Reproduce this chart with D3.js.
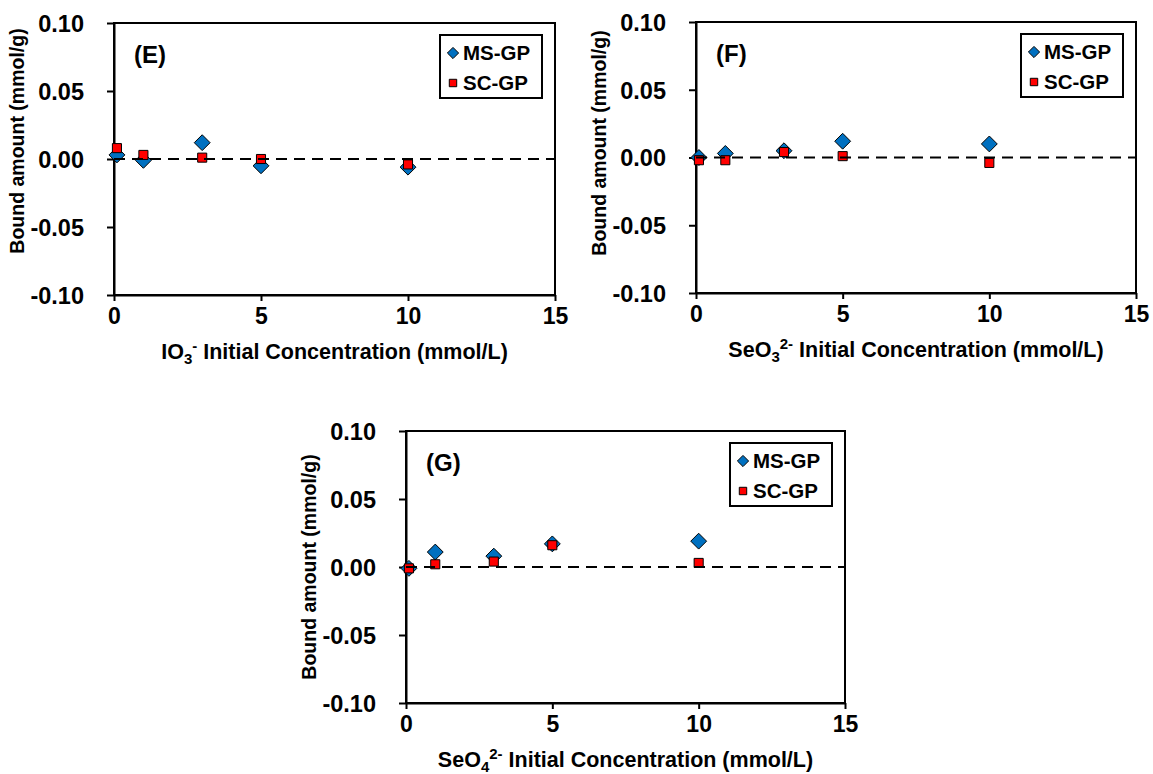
<!DOCTYPE html>
<html>
<head>
<meta charset="utf-8">
<script src="https://cdn.jsdelivr.net/npm/d3@7"></script>
<style>
  body { margin: 0; background: #fff; }
  svg { display: block; font-family: "Liberation Sans", Arial, sans-serif; font-weight: bold; }
</style>
</head>
<body>
<svg id="chart" width="1153" height="774"></svg>
<script>
// initial concentrations (mmol/L)
const concentrations = [0.1, 1, 3, 5, 10]

// bound amounts (mmol/g)
const msIO3 = [0.003, -0.001, 0.012, -0.005, -0.006]
const scIO3 = [0.008, 0.003, 0.001, 0.000, -0.004]

const msSeO3 = [0.000, 0.003, 0.005, 0.012, 0.010]
const scSeO3 = [-0.002, -0.002, 0.004, 0.001, -0.004]

const msSeO4 = [-0.001, 0.011, 0.008, 0.017, 0.019]
const scSeO4 = [-0.001, 0.002, 0.004, 0.016, 0.003]

const xTicks = [0, 5, 10, 15]
const yTicks = [-0.10, -0.05, 0.00, 0.05, 0.10]
const seriesNames = ["MS-GP", "SC-GP"]

const blue = "#0070c0"
const red = "#ff0000"
const font = "'Liberation Sans', Arial, sans-serif"

const svg = d3.select("#chart")

const panels = [
    { label: "(E)", ion: "IO", sub: "3", sup: "-", ms: msIO3, sc: scIO3,
      left: 114, right: 555, top: 23, bottom: 295, yTitleY: 141 },
    { label: "(F)", ion: "SeO", sub: "3", sup: "2-", ms: msSeO3, sc: scSeO3,
      left: 696, right: 1136, top: 22, bottom: 293, yTitleY: 143 },
    { label: "(G)", ion: "SeO", sub: "4", sup: "2-", ms: msSeO4, sc: scSeO4,
      left: 406, right: 845, top: 431, bottom: 703, yTitleY: 567 }
]

const diamond = d3.symbol().type(d3.symbolDiamond2)
const square = d3.symbol().type(d3.symbolSquare2)
// excel style: plain hyphen for negatives
const yFormat = d => d3.format(".2f")(d).replace("\u2212", "-")

function drawPanel(p) {
    const x = d3.scaleLinear().domain([0, 15]).range([p.left, p.right])
    const y = d3.scaleLinear().domain([-0.1, 0.1]).range([p.bottom, p.top])
    const g = svg.append("g")

    // plot frame
    g.append("rect")
        .attr("x", p.left).attr("y", p.top)
        .attr("width", p.right - p.left).attr("height", p.bottom - p.top)
        .attr("fill", "none").attr("stroke", "#000").attr("stroke-width", 2)

    const yAxis = g.append("g")
        .attr("transform", `translate(${p.left},0)`)
        .call(d3.axisLeft(y).tickValues(yTicks).tickFormat(yFormat).tickSize(7).tickPadding(23).tickSizeOuter(0))
    const xAxis = g.append("g")
        .attr("transform", `translate(0,${p.bottom})`)
        .call(d3.axisBottom(x).tickValues(xTicks).tickSize(6).tickPadding(7).tickSizeOuter(0))

    for (const ax of [xAxis, yAxis]) {
        ax.attr("font-family", font)
        ax.select(".domain").attr("stroke-width", 2)
        ax.selectAll(".tick line").attr("stroke-width", 2)
        ax.selectAll(".tick text").style("font-weight", "bold").attr("fill", "#000")
    }
    yAxis.selectAll(".tick text").style("font-size", "23.5px").attr("dy", "0.36em")
    xAxis.selectAll(".tick text").style("font-size", "23px")

    // markers: MS first, SC on top
    g.selectAll(".ms").data(p.ms).join("path")
        .attr("transform", (d, i) => `translate(${x(concentrations[i])},${y(d)})`)
        .attr("d", diamond.size(160)())
        .attr("fill", blue).attr("stroke", "#000").attr("stroke-width", 1)

    g.selectAll(".sc").data(p.sc).join("path")
        .attr("transform", (d, i) => `translate(${x(concentrations[i])},${y(d)})`)
        .attr("d", square.size(105)())
        .attr("fill", red).attr("stroke", "#000").attr("stroke-width", 1)

    // zero reference line
    g.append("line")
        .attr("x1", p.left).attr("x2", p.right)
        .attr("y1", y(0)).attr("y2", y(0))
        .attr("stroke", "#000").attr("stroke-width", 2.2)
        .attr("stroke-dasharray", "11,7")

    // panel letter
    g.append("text")
        .attr("x", p.left + 20).attr("y", p.top + 40)
        .style("font-size", "24px").text(p.label)

    // legend
    const lx = p.right - 115, ly = p.top + 12
    const lg = g.append("g").attr("transform", `translate(${lx},${ly})`)
    lg.append("rect").attr("width", 102).attr("height", 63)
        .attr("fill", "#fff").attr("stroke", "#000").attr("stroke-width", 2)
    seriesNames.forEach((name, i) => {
        const cy = 18 + i * 30
        lg.append("path")
            .attr("transform", `translate(13,${cy})`)
            .attr("d", (i === 0 ? diamond.size(80) : square.size(70))())
            .attr("fill", i === 0 ? blue : red)
            .attr("stroke", "#000").attr("stroke-width", 1)
        lg.append("text").attr("x", 23).attr("y", cy + 7)
            .style("font-size", "20.5px").text(name)
    })

    // x title
    const xt = g.append("text")
        .attr("x", (p.left + p.right) / 2).attr("y", p.bottom + 64)
        .attr("text-anchor", "middle").style("font-size", "21.5px")
    xt.append("tspan").text(p.ion)
    xt.append("tspan").style("font-size", "15px").attr("dy", 5).text(p.sub)
    xt.append("tspan").style("font-size", "15px").attr("dy", -13).text(p.sup)
    xt.append("tspan").attr("dy", 8).text(" Initial Concentration (mmol/L)")

    // y title
    g.append("text")
        .attr("transform", `translate(${p.left - 90},${p.yTitleY}) rotate(-90)`)
        .attr("text-anchor", "middle").style("font-size", "19.5px")
        .text("Bound amount (mmol/g)")
}

panels.forEach(drawPanel)
</script>
</body>
</html>
